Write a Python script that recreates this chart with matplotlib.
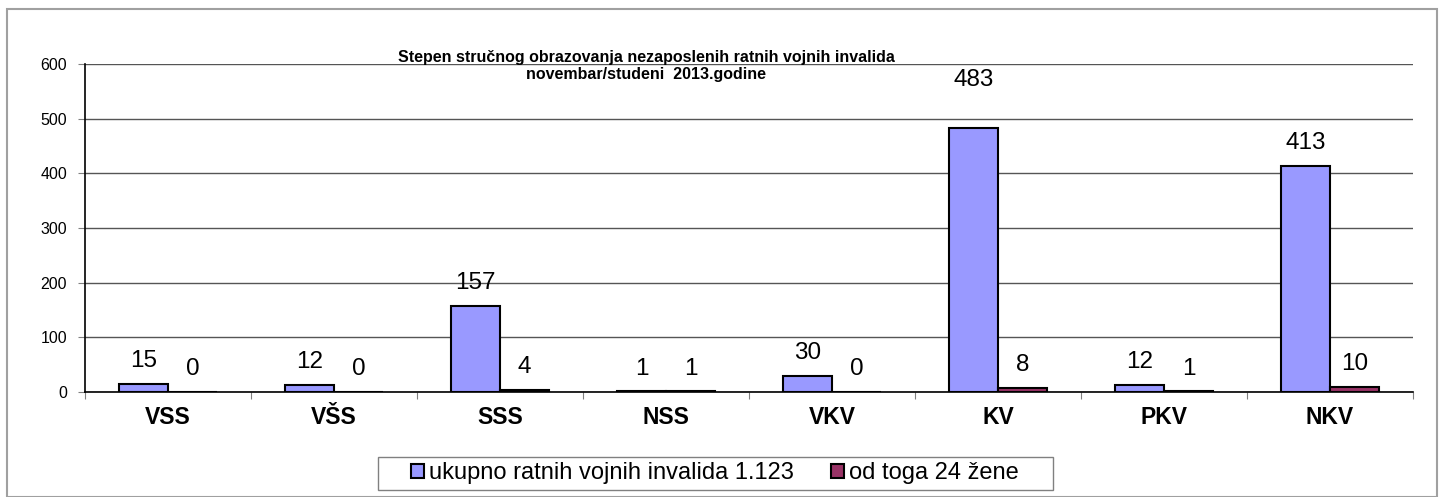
import numpy as np
import matplotlib; matplotlib.use('agg')
import matplotlib.pyplot as plt
from matplotlib.patches import Rectangle

plt.rcParams['font.family'] = ['Liberation Sans', 'DejaVu Sans']

# data
categories = ['VSS', 'VŠS', 'SSS', 'NSS', 'VKV', 'KV', 'PKV', 'NKV']
ukupno = [15, 12, 157, 1, 30, 483, 12, 413]
zene = [0, 0, 4, 1, 0, 8, 1, 10]
series_names = ['ukupno ratnih vojnih invalida 1.123', 'od toga 24 žene']
title = 'Stepen stručnog obrazovanja nezaposlenih ratnih vojnih invalida\nnovembar/studeni  2013.godine'

# extra lift (points) for labels that were moved by hand in the original
label_lift = {(0, 5): 18}

W, H = 1441, 497
fig = plt.figure(figsize=(W / 100, H / 100), dpi=100)

# outer chart border
fig.patches.append(Rectangle((7 / W, 0), 1430 / W, 1 - 9 / H, transform=fig.transFigure,
                             fill=False, edgecolor='#a0a0a0', linewidth=1.5))

ax = fig.add_axes([85 / W, 1 - 392 / H, (1413 - 85) / W, (392 - 64) / H])

x = np.arange(len(categories))
w = 0.295
b1 = ax.bar(x - w / 2, ukupno, w, color='#9999ff', edgecolor='black', linewidth=1.5,
            label=series_names[0], zorder=3)
b2 = ax.bar(x + w / 2, zene, w, color='#993366', edgecolor='black', linewidth=1.5,
            label=series_names[1], zorder=3)

for si, (bars, vals) in enumerate(((b1, ukupno), (b2, zene))):
    for ci, (r, v) in enumerate(zip(bars, vals)):
        dy = 8.6 + label_lift.get((si, ci), 0)
        ax.annotate(str(v), (r.get_x() + r.get_width() / 2, v), xytext=(0, dy),
                    textcoords='offset points', ha='center', va='bottom', fontsize=17.5)

ax.set_xlim(-0.5, len(categories) - 0.5)
ax.set_ylim(0, 600)
ax.set_yticks(range(0, 601, 100))
ax.tick_params(axis='y', labelsize=11.5, length=5, width=0.8, color='gray', pad=8)
ax.grid(axis='y', color='#555555', linewidth=1.0, zorder=0)
ax.set_xticks(x)
ax.set_xticklabels(categories, fontsize=16.5, fontweight='bold')
ax.set_xticks(np.arange(-0.5, len(categories)), minor=True)
ax.tick_params(axis='x', which='major', length=0, pad=10)
ax.tick_params(axis='x', which='minor', length=5, width=0.8, color='gray')
for s in ('top', 'right'):
    ax.spines[s].set_visible(False)
ax.spines['left'].set_linewidth(1.2)
ax.spines['bottom'].set_linewidth(1.2)

fig.text(646 / W, 1 - 66 / H, title, ha='center', va='center', fontsize=11.5,
         fontweight='bold', linespacing=1.2)

# legend: entries without frame, plus a drawn box like the original
leg = fig.legend(handles=[b1, b2], loc='center', bbox_to_anchor=(715 / W, 1 - 473 / H),
                 ncol=2, fontsize=17, frameon=False,
                 handlelength=0.55, handleheight=0.55, handletextpad=0.2, columnspacing=1.6)
fig.patches.append(Rectangle((378 / W, 1 - 490 / H), (1053 - 378) / W, 33 / H,
                             transform=fig.transFigure, fill=False,
                             edgecolor='#808080', linewidth=1.0))

fig.savefig('out.png', dpi=100)
